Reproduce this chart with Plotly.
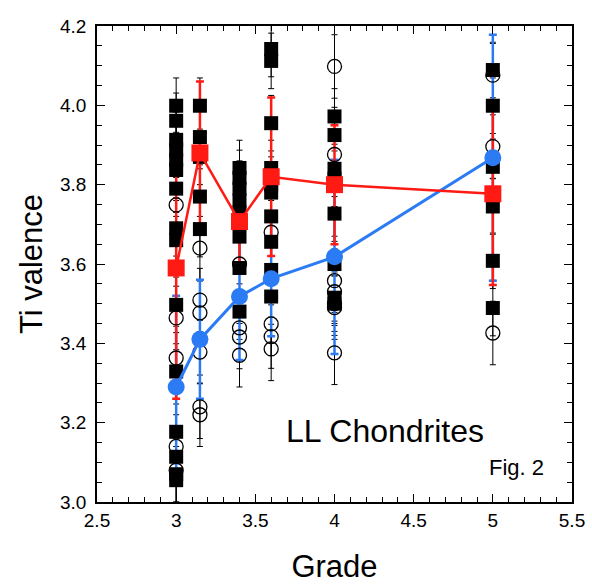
import plotly.graph_objects as go

# Individual measurements (filled squares)
sq_grade = [3.0]*15 + [3.15]*5 + [3.4]*8 + [3.6]*10 + [4.0]*8 + [5.0]*6
sq_val = [3.999, 3.961, 3.913, 3.888, 3.862, 3.837, 3.79, 3.69, 3.66, 3.497, 3.329, 3.177, 3.114, 3.07, 3.055,
          3.999, 3.92, 3.87, 3.77, 3.688,
          3.842, 3.817, 3.79, 3.76, 3.73, 3.669, 3.59, 3.48,
          4.142, 4.112, 3.955, 3.842, 3.80, 3.78, 3.72, 3.656, 3.585, 3.518,
          3.972, 3.925, 3.84, 3.815, 3.727, 3.60, 3.515, 3.50,
          4.089, 3.999, 3.845, 3.745, 3.608, 3.489]
sq_err = [0.07]*len(sq_val)

# Individual measurements (open circles)
ci_grade = [3.0]*5 + [3.15]*6 + [3.4]*4 + [3.6]*4 + [4.0]*7 + [5.0]*3
ci_val = [3.749, 3.464, 3.363, 3.14, 3.08,
          3.64, 3.509, 3.477, 3.378, 3.24, 3.22,
          3.60, 3.439, 3.416, 3.37,
          3.68, 3.449, 3.417, 3.386,
          4.098, 3.876, 3.558, 3.53, 3.50, 3.49, 3.376,
          4.076, 3.896, 3.426]
ci_err = [0.08]*len(ci_val)

# Means
grades = [3.0, 3.15, 3.4, 3.6, 4.0, 5.0]
red_mean = [3.59, 3.88, 3.707, 3.82, 3.80, 3.777]
red_err = [0.33, 0.18, 0.12, 0.20, 0.15, 0.23]
blue_mean = [3.29, 3.41, 3.518, 3.563, 3.618, 3.868]
blue_err = [0.23, 0.15, 0.16, 0.145, 0.245, 0.31]

RED = "#ff1a14"
BLUE = "#2b7bf4"
FONT = "Liberation Sans, Arial, sans-serif"
HIDDEN = dict(size=1, opacity=0)

fig = go.Figure()
# black error bars (behind everything)
fig.add_trace(go.Scatter(x=ci_grade, y=ci_val, mode="markers", marker=HIDDEN,
    error_y=dict(type="data", array=ci_err, color="black", thickness=1, width=3),
    showlegend=False, hoverinfo="skip"))
fig.add_trace(go.Scatter(x=sq_grade, y=sq_val, mode="markers", marker=HIDDEN,
    error_y=dict(type="data", array=sq_err, color="black", thickness=1, width=3),
    showlegend=False, hoverinfo="skip"))
# coloured error bars of the means
fig.add_trace(go.Scatter(x=grades, y=blue_mean, mode="markers", marker=HIDDEN,
    error_y=dict(type="data", array=blue_err, color=BLUE, thickness=2.5, width=4),
    showlegend=False, hoverinfo="skip"))
fig.add_trace(go.Scatter(x=grades, y=red_mean, mode="markers", marker=HIDDEN,
    error_y=dict(type="data", array=red_err, color=RED, thickness=2.5, width=4),
    showlegend=False, hoverinfo="skip"))
# individual markers
fig.add_trace(go.Scatter(x=ci_grade, y=ci_val, mode="markers",
    marker=dict(symbol="circle-open", size=14, color="black", line=dict(width=1.3)),
    showlegend=False))
fig.add_trace(go.Scatter(x=sq_grade, y=sq_val, mode="markers",
    marker=dict(symbol="square", size=14, color="black"),
    showlegend=False))
# mean lines and markers
fig.add_trace(go.Scatter(x=grades, y=blue_mean, mode="lines+markers",
    line=dict(color=BLUE, width=3),
    marker=dict(symbol="circle", size=17, color=BLUE),
    showlegend=False))
fig.add_trace(go.Scatter(x=grades, y=red_mean, mode="lines+markers",
    line=dict(color=RED, width=2.5),
    marker=dict(symbol="square", size=17, color=RED),
    showlegend=False))

axis_common = dict(
    showline=True, linecolor="black", linewidth=1.5, mirror="allticks",
    ticks="inside", ticklen=8, tickwidth=1.3, tickcolor="black",
    showgrid=False, zeroline=False, automargin=False,
    tickfont=dict(family=FONT, size=19, color="black"),
)

fig.update_xaxes(range=[2.5, 5.5], dtick=0.5, tick0=2.5,
                 minor=dict(dtick=0.1, ticks="inside", ticklen=5, tickcolor="black", tickwidth=1),
                 title=dict(text="Grade", font=dict(family=FONT, size=31, color="black"), standoff=30),
                 **axis_common)
fig.update_yaxes(range=[3.0, 4.2], dtick=0.2, tick0=3.0, tickformat=".1f",
                 ticklabelstandoff=5,
                 minor=dict(dtick=0.05, ticks="inside", ticklen=5, tickcolor="black", tickwidth=1),
                 title=dict(text="Ti valence", font=dict(family=FONT, size=31, color="black"), standoff=8),
                 **axis_common)

fig.add_annotation(x=4.32, y=3.18, text="LL Chondrites", showarrow=False,
                   font=dict(family=FONT, size=32, color="black"))
fig.add_annotation(x=5.15, y=3.088, text="Fig. 2", showarrow=False,
                   font=dict(family=FONT, size=22, color="black"))

fig.update_layout(
    width=592, height=584,
    margin=dict(l=97, r=20, t=26, b=82),
    plot_bgcolor="white", paper_bgcolor="white",
)

fig.write_html("out.html")
